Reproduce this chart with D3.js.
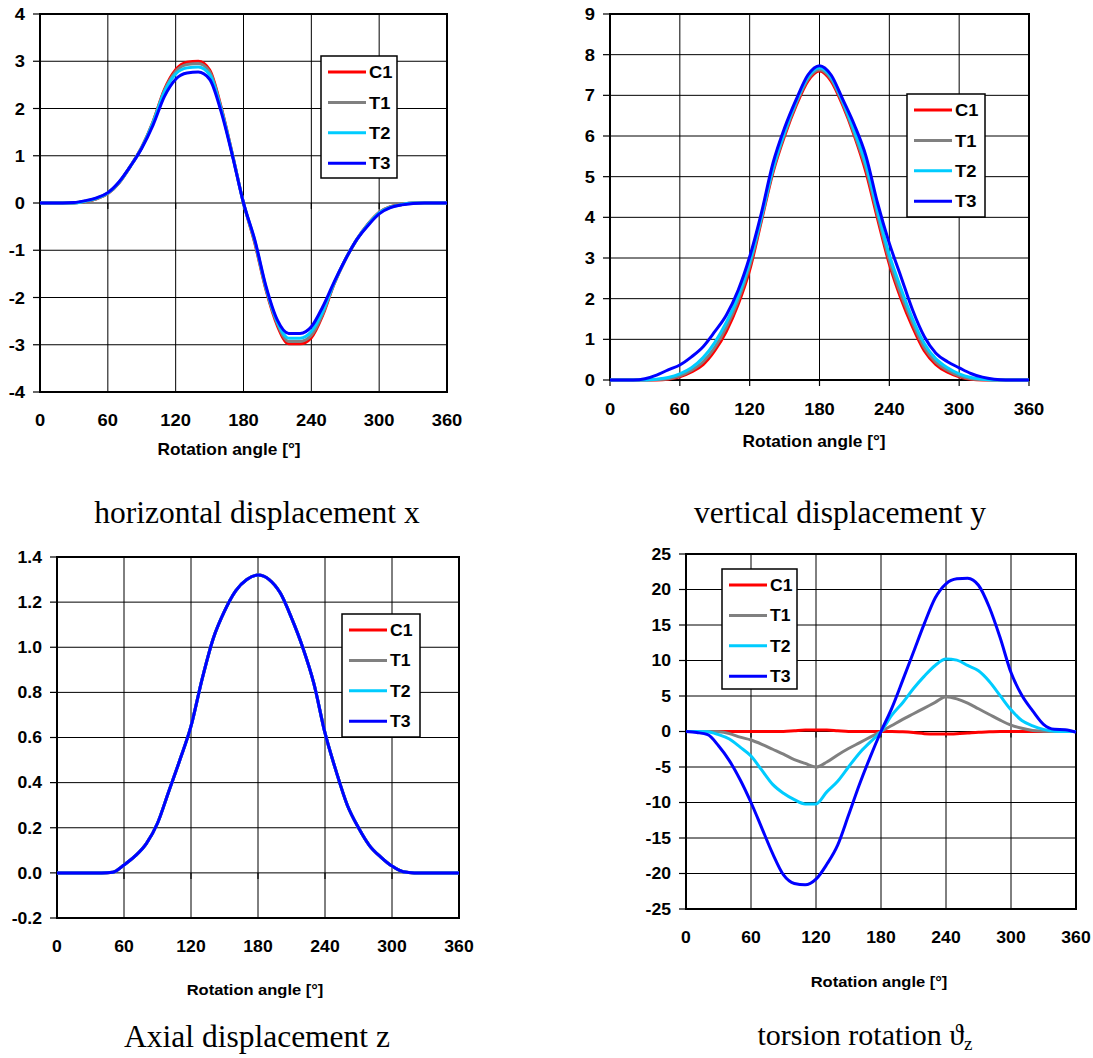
<!DOCTYPE html>
<html>
<head>
<meta charset="utf-8">
<script src="https://cdn.jsdelivr.net/npm/d3@7"></script>
<style>
  body { margin: 0; background: #fff; }
  text { font-family: "Liberation Sans", Arial, sans-serif; }
</style>
</head>
<body>
<div id="chart-area"></div>
<script>
// rotation angle samples, every 10 degrees
var angles = [0,10,20,30,40,50,60,70,80,90,100,110,120,130,140,150,160,170,180,
              190,200,210,220,230,240,250,260,270,280,290,300,310,320,330,340,350,360];
var xTicks = [0, 60, 120, 180, 240, 300, 360];
var seriesNames = ["C1", "T1", "T2", "T3"];
var seriesColors = ["#ff0000", "#808080", "#00ccff", "#0000ff"];

// horizontal displacement x
var xC1 = [0,0,0,0,0.03,0.09,0.2,0.43,0.78,1.18,1.72,2.4,2.82,2.98,3.0,2.82,2.05,1.05,0,
           -0.85,-1.85,-2.6,-2.98,-2.98,-2.85,-2.38,-1.72,-1.2,-0.78,-0.45,-0.2,-0.08,-0.03,0,0,0,0];
var xT1 = [0,0,0,0,0.03,0.09,0.2,0.43,0.78,1.18,1.72,2.38,2.78,2.93,2.95,2.78,2.03,1.05,0,
           -0.83,-1.83,-2.56,-2.93,-2.93,-2.8,-2.35,-1.72,-1.2,-0.78,-0.45,-0.2,-0.08,-0.03,0,0,0,0];
var xT2 = [0,0,0,0,0.04,0.1,0.21,0.44,0.78,1.17,1.7,2.35,2.73,2.86,2.88,2.72,2.0,1.04,0,
           -0.8,-1.8,-2.52,-2.86,-2.86,-2.72,-2.3,-1.7,-1.2,-0.78,-0.46,-0.21,-0.09,-0.03,0,0,0,0];
var xT3 = [0,0,0,0.01,0.05,0.11,0.22,0.45,0.78,1.16,1.65,2.25,2.62,2.75,2.77,2.62,1.95,1.02,0,
           -0.78,-1.77,-2.48,-2.76,-2.76,-2.62,-2.2,-1.68,-1.2,-0.78,-0.48,-0.23,-0.1,-0.04,-0.01,0,0,0];
var xYTicks = [-4,-3,-2,-1,0,1,2,3,4];

// vertical displacement y
var yC1 = [0,0,0,0,0,0.02,0.08,0.2,0.38,0.72,1.2,1.85,2.7,3.9,5.1,6.0,6.75,7.35,7.6,
           7.35,6.75,6.0,5.1,3.95,2.85,2.0,1.3,0.72,0.38,0.19,0.08,0.02,0,0,0,0,0];
var yT1 = [0,0,0,0,0.01,0.03,0.1,0.24,0.45,0.8,1.3,1.95,2.8,3.95,5.15,6.05,6.8,7.4,7.63,
           7.4,6.8,6.05,5.2,4.05,2.95,2.1,1.4,0.8,0.44,0.24,0.1,0.03,0.01,0,0,0,0];
var yT2 = [0,0,0,0,0.02,0.06,0.15,0.3,0.55,0.92,1.42,2.05,2.9,4.0,5.2,6.1,6.85,7.45,7.68,
           7.45,6.85,6.12,5.3,4.15,3.08,2.25,1.5,0.9,0.52,0.3,0.15,0.06,0.02,0,0,0,0];
var yT3 = [0,0,0,0.03,0.12,0.25,0.37,0.57,0.82,1.19,1.6,2.2,3.03,4.1,5.33,6.2,6.9,7.5,7.73,
           7.5,6.9,6.27,5.5,4.34,3.36,2.54,1.72,1.07,0.66,0.45,0.3,0.16,0.07,0.02,0,0,0];
var yYTicks = [0,1,2,3,4,5,6,7,8,9];

// axial displacement z (all four cases coincide)
var zAll = [0,0,0,0,0,0.003,0.035,0.075,0.13,0.22,0.36,0.5,0.65,0.86,1.04,1.16,1.25,1.3,1.32,
            1.3,1.24,1.13,1.0,0.84,0.62,0.45,0.3,0.2,0.12,0.07,0.03,0.005,0,0,0,0,0];
var zYTicks = [-0.2,0,0.2,0.4,0.6,0.8,1.0,1.2,1.4];

// torsion rotation
var tC1 = [0,0,0,0,0,0,0,0,0,0,0.1,0.2,0.2,0.2,0.1,0,0,0,0,
           0,-0.05,-0.15,-0.3,-0.35,-0.35,-0.3,-0.2,-0.1,-0.05,0,0,0,0,0,0,0,0];
var tT1 = [0,0,0,-0.05,-0.3,-0.8,-1.2,-1.8,-2.5,-3.2,-3.95,-4.5,-5,-4.3,-3.3,-2.4,-1.6,-0.8,0,
           0.85,1.7,2.5,3.3,4.1,4.9,4.6,4.0,3.2,2.4,1.6,0.9,0.45,0.15,0.05,0,0,0];
var tT2 = [0,0,-0.05,-0.45,-1.05,-2.2,-3.45,-5.45,-7.45,-8.7,-9.6,-10.2,-10.2,-8.5,-7,-5,-3.05,-1.5,0,
           2.3,4.05,6.05,7.8,9.3,10.2,10.05,9.3,8.55,7.05,5.05,3.05,1.55,0.8,0.3,0.05,0,0];
var tT3 = [0,-0.15,-0.45,-2,-4.1,-6.8,-10,-13.6,-17.2,-20.2,-21.4,-21.6,-20.8,-18.7,-16,-11.8,-7.5,-3.6,0,
           3.3,7.2,11.2,15.2,18.8,20.8,21.5,21.6,20.6,17.5,13.2,8.3,5.1,2.9,1.0,0.3,0.25,-0.1];
var tYTicks = [-25,-20,-15,-10,-5,0,5,10,15,20,25];

var W = 1093, H = 1058;
var svg = d3.select("#chart-area").append("svg")
  .attr("width", W).attr("height", H);

function label(g, x, y, str, size, anchor, sx) {
  return g.append("text")
    .attr("transform", "translate(" + x + "," + y + ") scale(" + sx + ",1)")
    .attr("text-anchor", anchor)
    .attr("font-size", size)
    .attr("font-weight", "bold")
    .attr("fill", "#000")
    .text(str);
}

function drawPanel(p) {
  var g = svg.append("g");
  var x = d3.scaleLinear().domain([0, 360]).range([p.left, p.right]);
  var y = d3.scaleLinear().domain(d3.extent(p.yTicks)).range([p.bottom, p.top]);

  // grid
  g.selectAll(".vg").data(xTicks.slice(1, -1)).enter().append("line")
    .attr("x1", d => x(d)).attr("x2", d => x(d))
    .attr("y1", p.top).attr("y2", p.bottom)
    .attr("stroke", "#000").attr("stroke-width", 1);
  g.selectAll(".hg").data(p.yTicks.slice(1, -1)).enter().append("line")
    .attr("x1", p.left).attr("x2", p.right)
    .attr("y1", d => y(d)).attr("y2", d => y(d))
    .attr("stroke", "#000").attr("stroke-width", 1);

  // y ticks + labels
  g.selectAll(".yt").data(p.yTicks).enter().append("line")
    .attr("x1", p.left - 7).attr("x2", p.left)
    .attr("y1", d => y(d)).attr("y2", d => y(d))
    .attr("stroke", "#000").attr("stroke-width", 1.2);
  p.yTicks.forEach(function(d) {
    label(g, p.left - 15, y(d) + p.tickSize * 0.36, p.fmt(d), p.tickSize, "end", p.sx);
  });

  // x ticks at the zero line + labels
  var y0 = y(0);
  g.selectAll(".xt").data(xTicks).enter().append("line")
    .attr("x1", d => x(d)).attr("x2", d => x(d))
    .attr("y1", y0).attr("y2", y0 + 6)
    .attr("stroke", "#000").attr("stroke-width", 1.2);
  xTicks.forEach(function(d) {
    label(g, x(d), p.xLabelY, String(d), p.tickSize, "middle", p.sx);
  });
  label(g, p.titleX, p.titleY, "Rotation angle [°]", p.titleSize, "middle", p.sx);

  // frame
  g.append("rect")
    .attr("x", p.left).attr("y", p.top)
    .attr("width", p.right - p.left).attr("height", p.bottom - p.top)
    .attr("fill", "none").attr("stroke", "#000").attr("stroke-width", 2);

  // series
  var line = d3.line()
    .x((d, i) => x(angles[i]))
    .y(d => y(d))
    .curve(d3.curveMonotoneX);
  p.series.forEach(function(s, i) {
    g.append("path")
      .attr("d", line(s))
      .attr("fill", "none")
      .attr("stroke", seriesColors[i])
      .attr("stroke-width", 3)
      .attr("stroke-linejoin", "round");
  });

  // legend
  var L = p.legend;
  var lg = g.append("g");
  lg.append("rect")
    .attr("x", L.x).attr("y", L.y).attr("width", L.w).attr("height", L.h)
    .attr("fill", "#fff").attr("stroke", "#000").attr("stroke-width", 1.5);
  seriesNames.forEach(function(name, i) {
    var ly = L.y + 16 + i * 30.4;
    lg.append("line")
      .attr("x1", L.x + 7).attr("x2", L.x + 45)
      .attr("y1", ly).attr("y2", ly)
      .attr("stroke", seriesColors[i]).attr("stroke-width", 3);
    label(lg, L.x + 48, ly + p.legendSize * 0.36, name, p.legendSize, "start", p.sx);
  });
}

function caption(cx, cy, size, parts) {
  var t = svg.append("text")
    .attr("x", cx).attr("y", cy)
    .attr("text-anchor", "middle")
    .attr("font-size", size)
    .style("font-family", "'Liberation Serif', 'Times New Roman', serif");
  parts(t);
}

var intFmt = d => String(d);
var decFmt = d => d.toFixed(1);

drawPanel({left: 40, right: 447, top: 14, bottom: 392, yTicks: xYTicks, fmt: intFmt,
  series: [xC1, xT1, xT2, xT3], xLabelY: 426, titleX: 229, titleY: 455,
  tickSize: 17, titleSize: 16, legendSize: 17, sx: 1.08,
  legend: {x: 321, y: 56, w: 76, h: 122}});

drawPanel({left: 610, right: 1029, top: 14, bottom: 380, yTicks: yYTicks, fmt: intFmt,
  series: [yC1, yT1, yT2, yT3], xLabelY: 415, titleX: 814, titleY: 447,
  tickSize: 17, titleSize: 16, legendSize: 17, sx: 1.08,
  legend: {x: 907, y: 94, w: 78, h: 123}});

drawPanel({left: 57, right: 459, top: 557, bottom: 918, yTicks: zYTicks, fmt: decFmt,
  series: [zAll, zAll, zAll, zAll], xLabelY: 952, titleX: 255, titleY: 995,
  tickSize: 16, titleSize: 15, legendSize: 16, sx: 1.1,
  legend: {x: 342, y: 614, w: 78, h: 123}});

drawPanel({left: 686, right: 1076, top: 554, bottom: 909, yTicks: tYTicks, fmt: intFmt,
  series: [tC1, tT1, tT2, tT3], xLabelY: 943, titleX: 879, titleY: 987,
  tickSize: 16, titleSize: 15, legendSize: 16, sx: 1.1,
  legend: {x: 722, y: 569, w: 75, h: 120}});

caption(257, 523, 31.5, t => t.text("horizontal displacement x"));
caption(840, 523, 31.5, t => t.text("vertical displacement y"));
caption(257, 1047, 31.5, t => t.text("Axial displacement z"));
caption(865, 1045, 30, function(t) {
  t.append("tspan").text("torsion rotation ϑ");
  t.append("tspan").attr("dy", 5).attr("font-size", 19).text("z");
});
</script>
</body>
</html>
